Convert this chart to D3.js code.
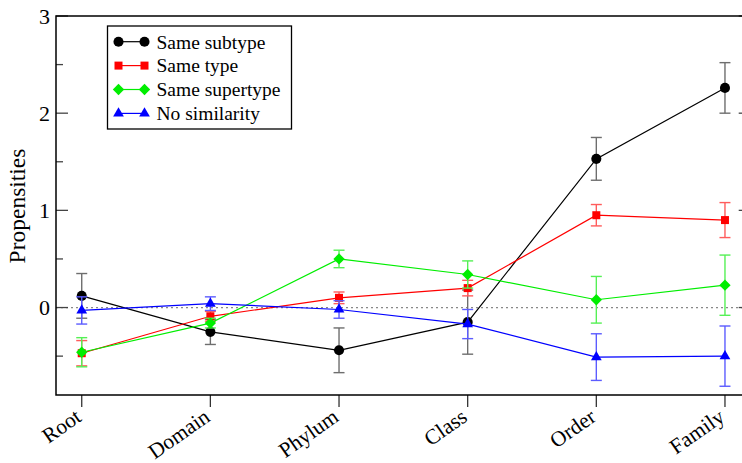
<!DOCTYPE html>
<html>
<head>
<meta charset="utf-8">
<script src="https://cdn.jsdelivr.net/npm/d3@7"></script>
<style>
  body { margin: 0; background: #fff; }
  svg { display: block; font-family: "Liberation Serif", "DejaVu Serif", serif; }
</style>
</head>
<body>
<svg id="chart" width="742" height="463"></svg>
<script>
// categories along the x axis
var levels = ["Root", "Domain", "Phylum", "Class", "Order", "Family"];

// mean propensities per series
var sameSubtype   = [0.12, -0.25, -0.44, -0.15, 1.53, 2.26];
var sameType      = [-0.47, -0.09, 0.10, 0.20, 0.95, 0.90];
var sameSupertype = [-0.46, -0.16, 0.50, 0.34, 0.08, 0.23];
var noSimilarity  = [-0.03, 0.04, -0.02, -0.17, -0.51, -0.50];

// error bar half-widths
var errSubtype   = [0.23, 0.13, 0.23, 0.33, 0.22, 0.26];
var errType      = [0.13, 0.05, 0.06, 0.08, 0.11, 0.18];
var errSupertype = [0.15, 0.05, 0.09, 0.14, 0.24, 0.31];
var errNoSim     = [0.14, 0.07, 0.09, 0.15, 0.24, 0.31];

var yMajorTicks = [0, 1, 2, 3];
var yMinorTicks = [-0.5, 0.5, 1.5, 2.5];

var seriesNames = ["Same subtype", "Same type", "Same supertype", "No similarity"];

// diamond = square turned 45 degrees
var diamond = {
  draw: function(ctx, size) {
    var r = Math.sqrt(size / 2);
    ctx.moveTo(0, -r); ctx.lineTo(r, 0); ctx.lineTo(0, r); ctx.lineTo(-r, 0); ctx.closePath();
  }
};

var series = [
  { name: seriesNames[0], values: sameSubtype,   errors: errSubtype,   color: "#000000", errColor: "#6e6e6e", symbol: d3.symbolCircle,   size: 80 },
  { name: seriesNames[1], values: sameType,      errors: errType,      color: "#ff0000", errColor: "#ff5c5c", symbol: d3.symbolSquare,   size: 64 },
  { name: seriesNames[2], values: sameSupertype, errors: errSupertype, color: "#00ee00", errColor: "#55f055", symbol: diamond,          size: 64 },
  { name: seriesNames[3], values: noSimilarity,  errors: errNoSim,     color: "#0000ff", errColor: "#5c5cff", symbol: d3.symbolTriangle, size: 50 }
];

var plot = { left: 56, top: 16, right: 750.7, bottom: 395 };

var x = d3.scalePoint()
  .domain(levels)
  .range([plot.left, plot.right])
  .padding(0.2);

var y = d3.scaleLinear()
  .domain([-0.9, 3])
  .range([plot.bottom, plot.top]);

var svg = d3.select("#chart");

// zero reference line
svg.append("line")
  .attr("x1", plot.left).attr("x2", plot.right)
  .attr("y1", y(0)).attr("y2", y(0))
  .attr("stroke", "#888")
  .attr("stroke-width", 1.2)
  .attr("stroke-dasharray", "2,3");

// y ticks, inward on left and right
function yTicks(values, len, cls) {
  svg.selectAll("line." + cls + "-l")
    .data(values).enter().append("line")
    .attr("x1", plot.left).attr("x2", plot.left + len)
    .attr("y1", d => y(d)).attr("y2", d => y(d))
    .attr("stroke", "#444").attr("stroke-width", 1.3);
  svg.selectAll("line." + cls + "-r")
    .data(values).enter().append("line")
    .attr("x1", plot.right).attr("x2", plot.right - len)
    .attr("y1", d => y(d)).attr("y2", d => y(d))
    .attr("stroke", "#444").attr("stroke-width", 1.3);
}
yTicks(yMajorTicks, 12, "maj");
yTicks(yMinorTicks, 7, "min");

svg.selectAll("text.ytick")
  .data(yMajorTicks).enter().append("text")
  .attr("class", "ytick")
  .attr("x", plot.left - 6)
  .attr("y", d => y(d))
  .attr("dy", "0.35em")
  .attr("text-anchor", "end")
  .attr("font-size", 22)
  .text(d => d);

// x ticks, outward
svg.selectAll("line.xtick")
  .data(levels).enter().append("line")
  .attr("x1", d => x(d)).attr("x2", d => x(d))
  .attr("y1", plot.bottom).attr("y2", plot.bottom + 12)
  .attr("stroke", "#333").attr("stroke-width", 1.3);

svg.selectAll("text.xlabel")
  .data(levels).enter().append("text")
  .attr("class", "xlabel")
  .attr("text-anchor", "end")
  .attr("font-size", 21.5)
  .attr("transform", d => "translate(" + (x(d) + 1) + "," + (plot.bottom + 25) + ") rotate(-35)")
  .text(d => d);

// frame (left, bottom, top)
svg.append("path")
  .attr("d", "M" + plot.right + "," + plot.top + "H" + plot.left + "V" + plot.bottom + "H" + plot.right + "V" + plot.top)
  .attr("fill", "none")
  .attr("stroke", "#000")
  .attr("stroke-width", 1.5);

// axis title
svg.append("text")
  .attr("transform", "translate(25," + 206 + ") rotate(-90)")
  .attr("text-anchor", "middle")
  .attr("font-size", 23.5)
  .text("Propensities");

var line = d3.line()
  .x((d, i) => x(levels[i]))
  .y(d => y(d));

series.forEach(function(s) {
  var g = svg.append("g");
  var pts = s.values.map((v, i) => ({ cat: levels[i], v: v, e: s.errors[i] }));

  // error bars
  var eb = g.selectAll("g.err").data(pts).enter().append("g")
    .attr("stroke", s.errColor).attr("stroke-width", 1.4);
  eb.append("line")
    .attr("x1", d => x(d.cat)).attr("x2", d => x(d.cat))
    .attr("y1", d => y(d.v + d.e)).attr("y2", d => y(d.v - d.e));
  eb.append("line")
    .attr("x1", d => x(d.cat) - 5.5).attr("x2", d => x(d.cat) + 5.5)
    .attr("y1", d => y(d.v + d.e)).attr("y2", d => y(d.v + d.e));
  eb.append("line")
    .attr("x1", d => x(d.cat) - 5.5).attr("x2", d => x(d.cat) + 5.5)
    .attr("y1", d => y(d.v - d.e)).attr("y2", d => y(d.v - d.e));

  g.append("path")
    .attr("d", line(s.values))
    .attr("fill", "none")
    .attr("stroke", s.color)
    .attr("stroke-width", 1.2);

  g.selectAll("path.mark").data(pts).enter().append("path")
    .attr("d", d3.symbol().type(s.symbol).size(s.size))
    .attr("transform", d => "translate(" + x(d.cat) + "," + y(d.v) + ")")
    .attr("fill", s.color);
});

// legend
var legend = svg.append("g").attr("transform", "translate(107.5,26)");
legend.append("rect")
  .attr("width", 184).attr("height", 103)
  .attr("fill", "#fff").attr("stroke", "#000").attr("stroke-width", 1.3);

var rows = legend.selectAll("g.row").data(series).enter().append("g")
  .attr("transform", (d, i) => "translate(0," + (15.7 + i * 23.9) + ")");
rows.append("line")
  .attr("x1", 11).attr("x2", 37)
  .attr("stroke", d => d.color).attr("stroke-width", 1.2);
rows.selectAll("path").data(d => [d, d]).enter().append("path")
  .attr("d", d => d3.symbol().type(d.symbol).size(d.size)())
  .attr("transform", (d, i) => "translate(" + (i ? 37 : 11) + ",0)")
  .attr("fill", d => d.color);
rows.append("text")
  .attr("x", 49).attr("dy", "0.35em")
  .attr("font-size", 19.5)
  .text(d => d.name);
</script>
</body>
</html>
